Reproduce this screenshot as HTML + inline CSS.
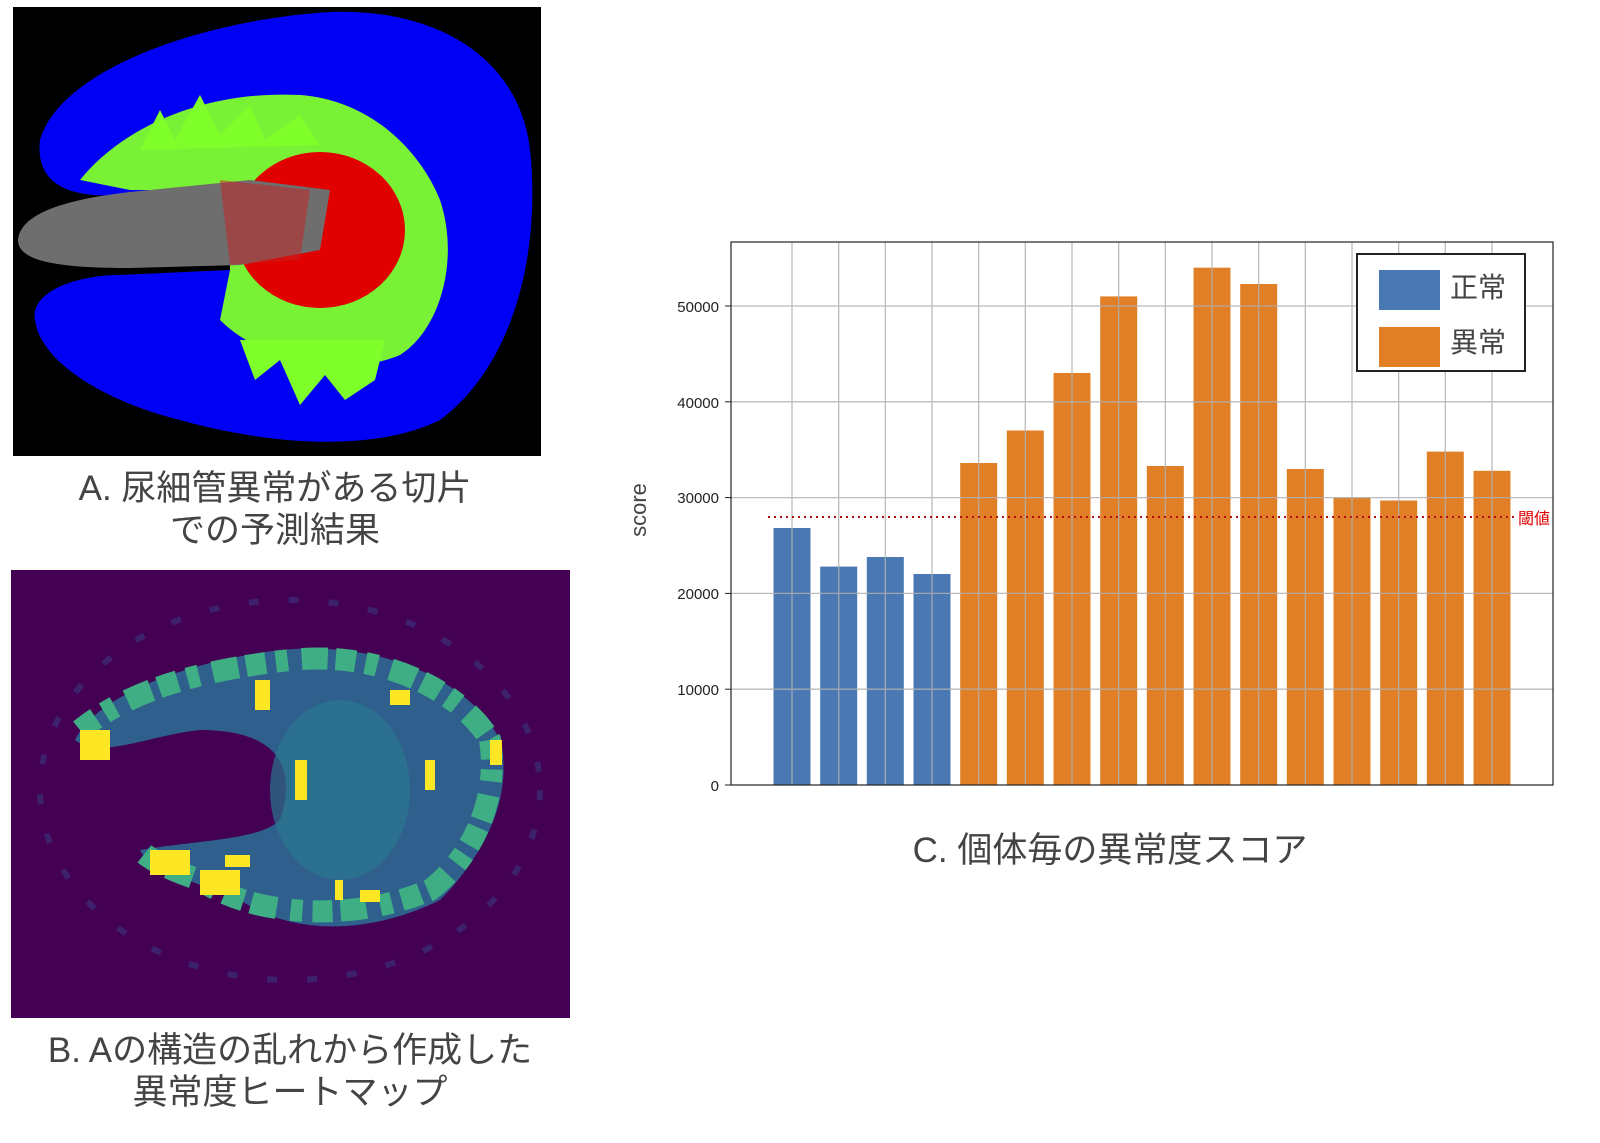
<!DOCTYPE html>
<html><head><meta charset="utf-8"><style>
body{margin:0;background:#fff;}
svg{display:block}
text{font-family:"Liberation Sans","Noto Sans CJK JP",sans-serif;}
</style></head><body>
<svg width="1600" height="1143" viewBox="0 0 1600 1143">
<rect width="1600" height="1143" fill="#fff"/>
<!-- Image A -->
<rect x="13" y="7" width="528" height="449" fill="#000"/>
<path d="M40,140 C60,70 200,20 330,12 C440,8 520,60 530,150 C540,240 520,360 440,420 C380,450 280,448 180,420 C100,400 40,360 35,320 C30,290 80,275 120,275 L230,270 L230,190 L120,195 C70,198 35,185 40,140 Z" fill="#0000f5"/>
<path d="M80,180 C120,130 200,90 300,95 C370,100 420,150 440,200 C460,260 440,330 400,355 C340,380 260,360 220,320 L230,270 L230,190 L130,190 Z" fill="#7fff2a" opacity="0.95"/>
<path d="M140,150 l20,-40 l15,30 l25,-45 l20,40 l30,-30 l15,35 l35,-25 l20,30 Z" fill="#7fff2a"/>
<path d="M240,340 l15,40 l25,-20 l20,45 l25,-30 l20,25 l30,-20 l10,-40 Z" fill="#7fff2a"/>
<ellipse cx="320" cy="230" rx="85" ry="78" fill="#e00000"/>
<path d="M18,240 C20,215 60,200 130,192 L250,180 L330,190 L320,250 L240,265 L130,268 C60,268 18,262 18,240 Z" fill="#6e6e6e"/>
<path d="M220,180 L310,190 L300,260 L230,265 Z" fill="#c82020" opacity="0.5"/>
<!-- Caption A -->
<text x="275" y="500" font-size="35" text-anchor="middle" fill="#444">A. 尿細管異常がある切片</text>
<text x="275" y="542" font-size="35" text-anchor="middle" fill="#444">での予測結果</text>
<!-- Image B -->
<rect x="11" y="570" width="559" height="448" fill="#440154"/>
<ellipse cx="290" cy="790" rx="250" ry="190" fill="none" stroke="#3b2f78" stroke-width="6" stroke-dasharray="10 30" opacity="0.7"/>
<path d="M75,740 C100,690 200,660 280,650 C380,640 470,680 500,740 C515,800 480,860 440,900 C380,930 300,940 240,900 C190,880 150,870 140,850 C200,840 260,840 280,820 C300,760 270,730 200,730 C150,735 100,760 75,740 Z" fill="#2f5f8c"/>
<path d="M80,730 C130,690 200,670 290,660 C380,650 460,690 490,740 C500,800 470,860 430,890 C360,920 260,920 200,880 C170,870 150,860 140,850" fill="none" stroke="#3fae85" stroke-width="22" stroke-dasharray="20 10 12 14 26 8"/>
<ellipse cx="340" cy="790" rx="70" ry="90" fill="#2a788e" opacity="0.7"/>
<g fill="#fde725">
<rect x="80" y="730" width="30" height="30"/><rect x="255" y="680" width="15" height="30"/><rect x="295" y="760" width="12" height="40"/>
<rect x="150" y="850" width="40" height="25"/><rect x="200" y="870" width="40" height="25"/><rect x="225" y="855" width="25" height="12"/>
<rect x="425" y="760" width="10" height="30"/><rect x="490" y="740" width="12" height="25"/><rect x="360" y="890" width="20" height="12"/><rect x="390" y="690" width="20" height="15"/><rect x="335" y="880" width="8" height="20"/>
</g>
<!-- Caption B -->
<text x="290" y="1062" font-size="35" text-anchor="middle" fill="#444">B. Aの構造の乱れから作成した</text>
<text x="290" y="1104" font-size="35" text-anchor="middle" fill="#444">異常度ヒートマップ</text>
<!-- Chart C -->
<g>
<rect x="731" y="242" width="822" height="543" fill="#fff"/>
<g fill="#4a78b2">
<rect x="773.5" y="528" width="37" height="257"/>
<rect x="820.2" y="566.6" width="37" height="218.4"/>
<rect x="866.8" y="557" width="37" height="228"/>
<rect x="913.5" y="574" width="37" height="211"/>
</g>
<g fill="#e17f27">
<rect x="960.2" y="463" width="37" height="322"/>
<rect x="1006.8" y="430.5" width="37" height="354.5"/>
<rect x="1053.5" y="373" width="37" height="412"/>
<rect x="1100.2" y="296.4" width="37" height="488.6"/>
<rect x="1146.8" y="466" width="37" height="319"/>
<rect x="1193.5" y="267.7" width="37" height="517.3"/>
<rect x="1240.2" y="284" width="37" height="501"/>
<rect x="1286.8" y="469" width="37" height="316"/>
<rect x="1333.5" y="497.6" width="37" height="287.4"/>
<rect x="1380.2" y="500.5" width="37" height="284.5"/>
<rect x="1426.8" y="451.6" width="37" height="333.4"/>
<rect x="1473.5" y="470.8" width="37" height="314.2"/>
</g>
<g stroke="#b0b0b0" stroke-width="1.3" opacity="0.85">
<line x1="731" x2="1553" y1="689.2" y2="689.2"/><line x1="731" x2="1553" y1="593.4" y2="593.4"/><line x1="731" x2="1553" y1="497.6" y2="497.6"/><line x1="731" x2="1553" y1="401.8" y2="401.8"/><line x1="731" x2="1553" y1="306" y2="306"/>
<line x1="792" x2="792" y1="242" y2="785"/><line x1="838.7" x2="838.7" y1="242" y2="785"/><line x1="885.3" x2="885.3" y1="242" y2="785"/><line x1="932" x2="932" y1="242" y2="785"/><line x1="978.7" x2="978.7" y1="242" y2="785"/><line x1="1025.3" x2="1025.3" y1="242" y2="785"/><line x1="1072" x2="1072" y1="242" y2="785"/><line x1="1118.7" x2="1118.7" y1="242" y2="785"/><line x1="1165.3" x2="1165.3" y1="242" y2="785"/><line x1="1212" x2="1212" y1="242" y2="785"/><line x1="1258.7" x2="1258.7" y1="242" y2="785"/><line x1="1305.3" x2="1305.3" y1="242" y2="785"/><line x1="1352" x2="1352" y1="242" y2="785"/><line x1="1398.7" x2="1398.7" y1="242" y2="785"/><line x1="1445.3" x2="1445.3" y1="242" y2="785"/><line x1="1492" x2="1492" y1="242" y2="785"/>
</g>
<line x1="768" x2="1515" y1="517" y2="517" stroke="#b01010" stroke-width="2" stroke-dasharray="2 4"/>
<text x="1518" y="524" font-size="16" fill="#e00000">閾値</text>
<rect x="731" y="242" width="822" height="543" fill="none" stroke="#222" stroke-width="1.2"/>
<g font-size="15" fill="#222" text-anchor="end">
<text x="719" y="791">0</text><text x="719" y="695">10000</text><text x="719" y="599">20000</text><text x="719" y="503">30000</text><text x="719" y="408">40000</text><text x="719" y="312">50000</text>
</g>
<g stroke="#222"><line x1="725" x2="731" y1="785" y2="785"/><line x1="725" x2="731" y1="689.2" y2="689.2"/><line x1="725" x2="731" y1="593.4" y2="593.4"/><line x1="725" x2="731" y1="497.6" y2="497.6"/><line x1="725" x2="731" y1="401.8" y2="401.8"/><line x1="725" x2="731" y1="306" y2="306"/></g>
<text transform="translate(646,510) rotate(-90)" font-size="22" fill="#444" text-anchor="middle">score</text>
<rect x="1357" y="254" width="168" height="117" fill="#fff" stroke="#222" stroke-width="2"/>
<rect x="1379" y="270" width="61" height="40" fill="#4a78b2"/>
<rect x="1379" y="327" width="61" height="40" fill="#e17f27"/>
<text x="1450" y="297" font-size="28" fill="#444">正常</text>
<text x="1450" y="352" font-size="28" fill="#444">異常</text>
</g>
<text x="1110" y="862" font-size="35" text-anchor="middle" fill="#444">C. 個体毎の異常度スコア</text>
</svg>
</body></html>
